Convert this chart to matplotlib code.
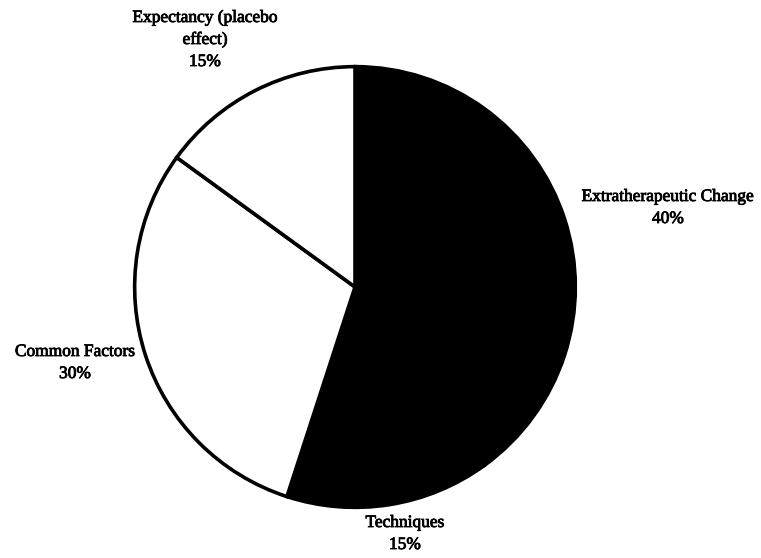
import matplotlib
matplotlib.use('Agg')
import matplotlib.pyplot as plt
import matplotlib.patheffects as pe

# slices, clockwise from 12 o'clock
labels = ['Extratherapeutic Change', 'Techniques', 'Common Factors',
          'Expectancy (placebo\neffect)']
shares = [40, 15, 30, 15]
colors = ['black', 'black', 'white', 'white']

W, H = 761, 558
cx, cy, r = 355, 287, 223

fig = plt.figure(figsize=(W/100, H/100), dpi=100)
ax = fig.add_axes([(cx-r)/W, (H-cy-r)/H, 2*r/W, 2*r/H])
ax.pie(shares, colors=colors, startangle=90, counterclock=False,
       wedgeprops=dict(edgecolor='black', linewidth=2.6))
ax.set_xlim(-1.012, 1.012)
ax.set_ylim(-1.012, 1.012)
ax.set_aspect('equal')
ax.axis('off')

# label anchor points in pixels (centre of text block)
label_pos = [(668, 208), (405, 534), (75, 363), (205, 40)]
for lab, val, (px, py) in zip(labels, shares, label_pos):
    fig.text(px/W, 1-py/H, '%s\n%d%%' % (lab, val), ha='center', va='center',
             fontsize=12.5, linespacing=1.5, family='Liberation Serif',
             path_effects=[pe.withStroke(linewidth=0.6, foreground='black')])

fig.savefig('out.png', dpi=100, facecolor='white')
